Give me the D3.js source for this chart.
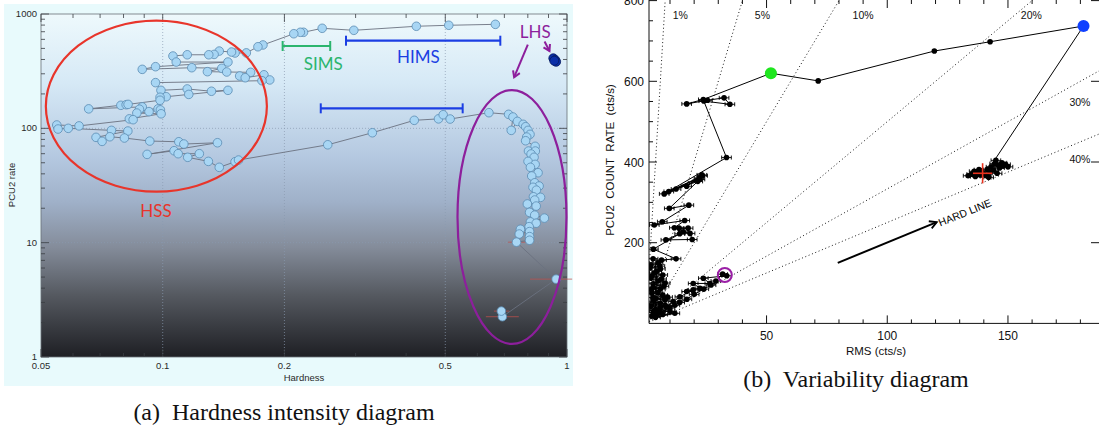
<!DOCTYPE html>
<html>
<head>
<meta charset="utf-8">
<script src="https://cdn.jsdelivr.net/npm/d3@7"></script>
<style>
  body { margin: 0; background: #fff; }
  svg { display: block; }
  text { font-family: "Liberation Sans", Arial, sans-serif; }
</style>
</head>
<body>
<svg id="fig" width="1099" height="430"></svg>
<script>
// ---- (a) hardness-intensity diagram: [hardness, PCU2 rate] ----
const hidTopTrack = [
  [0.665, 812], [0.51, 797], [0.424, 781], [0.297, 720], [0.248, 750], [0.223, 692],
  [0.219, 692], [0.211, 672], [0.177, 536], [0.172, 517]
];
const hidSoftTrack = [
  [0.161, 457], [0.151, 456], [0.148, 465], [0.138, 474], [0.134, 443], [0.130, 440],
  [0.115, 440], [0.106, 429], [0.108, 380], [0.145, 380], [0.096, 346], [0.089, 328],
  [0.118, 339], [0.140, 335], [0.129, 313], [0.144, 311], [0.165, 309], [0.155, 287],
  [0.160, 277], [0.178, 294], [0.184, 265], [0.176, 261], [0.096, 251], [0.099, 215],
  [0.115, 221], [0.132, 211], [0.145, 215], [0.116, 198], [0.102, 189], [0.0985, 187],
  [0.0985, 176], [0.0788, 159], [0.0812, 161], [0.0821, 162], [0.0656, 148], [0.089, 154],
  [0.0876, 147], [0.0974, 148], [0.0987, 145], [0.0925, 140], [0.0863, 136], [0.0991, 134],
  [0.0827, 121], [0.0845, 119], [0.0621, 105], [0.0547, 107], [0.0551, 98.6], [0.0584, 100],
  [0.0747, 96], [0.082, 94.7], [0.0684, 83.4], [0.0708, 76.9], [0.074, 84.4], [0.0804, 82.3],
  [0.0929, 77.4], [0.1096, 76.3], [0.1128, 72.9], [0.1366, 74.8], [0.0915, 59.2], [0.1067, 63.7],
  [0.1092, 60], [0.1232, 60], [0.1153, 55.8], [0.1297, 51.4], [0.138, 45.6], [0.151, 51],
  [0.154, 52.8]
];
const hidDecayTrack = [
  [0.256, 71.8], [0.330, 91.5], [0.419, 117.5], [0.481, 121], [0.494, 131.5], [0.514, 120.6],
  [0.641, 137], [0.717, 132.6], [0.735, 125.6], [0.728, 96], [0.754, 115], [0.779, 108.4],
  [0.790, 103.3], [0.801, 96], [0.810, 88.6], [0.795, 83.9], [0.790, 77.9], [0.834, 69.6],
  [0.803, 63.3], [0.835, 63.3], [0.815, 59.6], [0.829, 55.8], [0.801, 51.4], [0.834, 48.4],
  [0.812, 45.6], [0.848, 40.9], [0.818, 38.3], [0.832, 33.4], [0.853, 31.3], [0.824, 30.5],
  [0.840, 28.8], [0.826, 25.2], [0.860, 24.9], [0.832, 23.6], [0.798, 21.8], [0.839, 20.9],
  [0.808, 18.4], [0.832, 17.4], [0.879, 16.4], [0.812, 15.2], [0.839, 14.8], [0.806, 13.8],
  [0.767, 13.1], [0.762, 11.9], [0.808, 12.5], [0.808, 11.3], [0.808, 10.5], [0.750, 10.1],
  [0.940, 4.8], [0.692, 2.25], [0.688, 2.52]
];
const hidRise = [[0.925, 410], [0.935, 396], [0.94, 382], [0.93, 390]];
// [hardness, rate, low, high]
const hidErrBars = [[0.750, 10.1, 0.715, 0.79], [0.940, 4.8, 0.81, 1.03], [0.692, 2.25, 0.63, 0.76], [0.688, 2.52, 0.66, 0.72]];
const hidXTicks = [0.05, 0.1, 0.2, 0.5, 1];
const hidXLabels = ["0.05", "0.1", "0.2", "0.5", "1"];
const hidYTicks = [1, 10, 100, 1000];
const hidYLabels = ["1", "10", "100", "1000"];

// ---- (b) variability diagram: [RMS, PCU2 count rate] ----
const vdTrack = [
  [144.5, 405], [181.3, 737], [142.6, 698], [119.5, 675], [71.4, 601], [51.8, 620],
  [23.8, 555], [16.9, 544], [25.5, 553], [32.4, 559], [34.8, 543], [24, 551], [33.4, 411],
  [7.6, 321], [22.4, 357], [23.2, 368], [16.9, 340], [22.0, 360], [9.5, 327], [23.5, 366],
  [12.5, 333], [21.5, 352], [9.7, 285], [17.8, 293], [6.8, 252], [3.5, 244], [16.1, 255],
  [11.8, 237], [17.5, 236], [13.8, 236], [15.5, 227], [18.3, 223], [19.2, 208], [8.3, 207],
  [14, 222], [3.1, 184], [12.5, 160], [6.5, 157], [5.8, 142], [1.7, 137],
  [3, 160], [5, 150], [2, 145], [6, 135], [3.5, 125], [7, 120], [2, 112], [5, 105], [8, 100],
  [3, 90], [6, 85], [2.5, 75], [7, 70], [4, 62], [9, 65], [3, 55], [6, 50], [2, 42], [8, 45],
  [4, 35], [10, 30], [3, 27], [7, 22], [12, 25], [4, 15],
  [4.5, 130], [2.5, 118], [6.5, 110], [3, 98], [7.5, 92], [2.2, 84], [5, 76], [3, 64], [8, 58],
  [2.5, 48], [6, 40], [3.5, 32], [10, 38], [5, 24], [2.5, 18], [12, 45], [14, 52], [17, 60],
  [20, 72], [24, 85], [27, 95], [29, 105], [31.8, 122],
  [33.5, 118], [23.8, 112], [26.5, 99], [19.6, 99], [22.4, 87], [16.9, 79], [19.6, 83],
  [14.1, 66], [11.3, 54], [8.6, 41], [5.8, 29], [3.1, 21]
];
const vdCluster = [
  [133.5, 366], [135, 370], [136.5, 364], [137, 374], [138.5, 368], [139, 378], [140, 371],
  [141, 366], [141.5, 382], [142.5, 375], [143, 388], [144, 380], [144.5, 396], [145, 404],
  [146, 392], [146.5, 385], [147.5, 398], [148, 390], [149, 394], [150, 388], [138, 381],
  [142, 362], [136, 377], [145.5, 372]
];
const vdRmsErr = 2;
const vdHardStart = [181.3, 737];
const vdSoftStart = [51.8, 620];
const vdDecayMark = [32.7, 120];
const vdRedCross = [139.5, 372, 4, 25];   // rms, rate, rms err, rate err
const rmsFracs = [0.01, 0.05, 0.1, 0.2, 0.3, 0.4];
const rmsFracLabels = ["1%", "5%", "10%", "20%", "30%", "40%"];
const vdXTicks = [50, 100, 150];
const vdYTicks = [200, 400, 600, 800];

const svg = d3.select("#fig");
const defs = svg.append("defs");
const serif = "'Liberation Serif', 'Times New Roman', serif";

// ================= panel (a) =================
const gA = svg.append("g");
gA.append("rect").attr("x", 4).attr("y", 4).attr("width", 569).attr("height", 382).attr("fill", "#e8fafc");

const xA = d3.scaleLog().domain([0.05, 1]).range([41, 567]);
const yA = d3.scaleLog().domain([1, 1000]).range([357, 14]);

const grad = defs.append("linearGradient").attr("id", "bgA")
  .attr("x1", 0).attr("y1", 0).attr("x2", 0).attr("y2", 1);
[[0, "#eef9fc"], [0.2, "#d6e9f6"], [0.42, "#b4c8e0"], [0.55, "#9fb0c8"], [0.68, "#848c9a"],
 [0.82, "#555960"], [1, "#1e1f24"]].forEach(s => grad.append("stop").attr("offset", s[0]).attr("stop-color", s[1]));
gA.append("rect").attr("x", 41).attr("y", 14).attr("width", 526).attr("height", 343).attr("fill", "url(#bgA)");

// dotted grid
[0.1, 0.2, 0.5].forEach(v => gA.append("line")
  .attr("x1", xA(v)).attr("x2", xA(v)).attr("y1", 14).attr("y2", 357)
  .attr("stroke", "#8a9ab0").attr("stroke-width", 0.7).attr("stroke-dasharray", "1,2"));
[10, 100].forEach(v => gA.append("line")
  .attr("x1", 41).attr("x2", 567).attr("y1", yA(v)).attr("y2", yA(v))
  .attr("stroke", "#8a9ab0").attr("stroke-width", 0.7).attr("stroke-dasharray", "1,2"));

// frame + ticks
gA.append("rect").attr("x", 41).attr("y", 14).attr("width", 526).attr("height", 343)
  .attr("fill", "none").attr("stroke", "#6a7078").attr("stroke-width", 0.8);
const xMinorA = [0.06, 0.07, 0.08, 0.09, 0.3, 0.4, 0.6, 0.7, 0.8, 0.9];
const yMinorA = [];
[1, 10, 100].forEach(d => { for (let k = 2; k < 10; k++) yMinorA.push(d * k); });
const tickA = gA.append("g").attr("stroke", "#3a3d42").attr("stroke-width", 0.8);
hidXTicks.concat(xMinorA).forEach(v => {
  const len = hidXTicks.includes(v) ? 8 : 4;
  tickA.append("line").attr("x1", xA(v)).attr("x2", xA(v)).attr("y1", 357).attr("y2", 357 - len);
  tickA.append("line").attr("x1", xA(v)).attr("x2", xA(v)).attr("y1", 14).attr("y2", 14 + len);
});
hidYTicks.concat(yMinorA).forEach(v => {
  const len = hidYTicks.includes(v) ? 8 : 4;
  tickA.append("line").attr("x1", 41).attr("x2", 41 + len).attr("y1", yA(v)).attr("y2", yA(v));
  tickA.append("line").attr("x1", 567).attr("x2", 567 - len).attr("y1", yA(v)).attr("y2", yA(v));
});
hidXTicks.forEach((v, i) => gA.append("text").attr("x", xA(v)).attr("y", 369)
  .attr("text-anchor", "middle").attr("font-size", 9.5).attr("fill", "#2a2a2a").text(hidXLabels[i]));
hidYTicks.forEach((v, i) => gA.append("text").attr("x", 37).attr("y", yA(v) + 3)
  .attr("text-anchor", "end").attr("font-size", 9.5).attr("fill", "#2a2a2a").text(hidYLabels[i]));
gA.append("text").attr("x", 304).attr("y", 381).attr("text-anchor", "middle")
  .attr("font-size", 9.5).attr("fill", "#2a2a2a").text("Hardness");
gA.append("text").attr("transform", "translate(15,185) rotate(-90)").attr("text-anchor", "middle")
  .attr("font-size", 9.5).attr("fill", "#2a2a2a").text("PCU2 rate");

// error bars
const errA = gA.append("g").attr("stroke", "#c0504d").attr("stroke-width", 1).attr("opacity", 0.75);
hidErrBars.forEach(d => errA.append("line")
  .attr("x1", xA(d[2])).attr("x2", xA(d[3])).attr("y1", yA(d[1])).attr("y2", yA(d[1])));

// track
const trackA = hidTopTrack.concat(hidSoftTrack, hidDecayTrack);
const lineA = d3.line().x(d => xA(d[0])).y(d => yA(d[1]));
gA.append("path").attr("d", lineA(trackA)).attr("fill", "none")
  .attr("stroke", "#6b7280").attr("stroke-width", 0.9);
gA.append("g").selectAll("circle").data(trackA).join("circle")
  .attr("cx", d => xA(d[0])).attr("cy", d => yA(d[1])).attr("r", 4.3)
  .attr("fill", "#a8d6f4").attr("stroke", "#5a8bb3").attr("stroke-width", 0.8);
gA.append("g").selectAll("circle").data(hidRise).join("circle")
  .attr("cx", d => xA(d[0])).attr("cy", d => yA(d[1])).attr("r", 4.5)
  .attr("fill", "#0b2fa8").attr("stroke", "#061a60").attr("stroke-width", 0.8);

// annotations
function ellipseFromBox(g, h0, h1, r0, r1, color) {
  const cx = (xA(h0) + xA(h1)) / 2, cy = (yA(r0) + yA(r1)) / 2;
  g.append("ellipse").attr("cx", cx).attr("cy", cy)
    .attr("rx", Math.abs(xA(h1) - xA(h0)) / 2).attr("ry", Math.abs(yA(r0) - yA(r1)) / 2)
    .attr("fill", "none").attr("stroke", color).attr("stroke-width", 2.2);
}
ellipseFromBox(gA, 0.0514, 0.181, 27.9, 874, "#e8352b");
ellipseFromBox(gA, 0.536, 0.997, 1.3, 216, "#8d1f9c");

function rangeBar(g, h0, h1, r, color) {
  const yy = yA(r);
  g.append("line").attr("x1", xA(h0)).attr("x2", xA(h1)).attr("y1", yy).attr("y2", yy)
    .attr("stroke", color).attr("stroke-width", 2.2);
  [h0, h1].forEach(h => g.append("line").attr("x1", xA(h)).attr("x2", xA(h))
    .attr("y1", yy - 5).attr("y2", yy + 5).attr("stroke", color).attr("stroke-width", 2));
}
rangeBar(gA, 0.198, 0.2596, 525, "#2bb56e");
rangeBar(gA, 0.284, 0.684, 584, "#1b3ee3");
rangeBar(gA, 0.246, 0.552, 149.6, "#1b3ee3");

const labelA = (h, r, txt, color) => gA.append("text").attr("x", xA(h)).attr("y", yA(r))
  .attr("text-anchor", "middle").style("font-family", "Lato, 'Open Sans', sans-serif")
  .attr("font-size", 17).attr("fill", color).text(txt);
labelA(0.0963, 16.7, "HSS", "#e8352b");
labelA(0.2495, 324, "SIMS", "#2bb56e");
labelA(0.429, 373, "HIMS", "#1b3ee3");
labelA(0.835, 613, "LHS", "#8d1f9c");

function arrowA(h0, r0, h1, r1, color) {
  const x0 = xA(h0), y0 = yA(r0), x1 = xA(h1), y1 = yA(r1);
  const a = Math.atan2(y1 - y0, x1 - x0), L = 7, w = 0.55;
  gA.append("line").attr("x1", x0).attr("y1", y0).attr("x2", x1).attr("y2", y1)
    .attr("stroke", color).attr("stroke-width", 2);
  gA.append("path").attr("d", `M${x1 - L * Math.cos(a - w)},${y1 - L * Math.sin(a - w)}L${x1},${y1}L${x1 - L * Math.cos(a + w)},${y1 - L * Math.sin(a + w)}`)
    .attr("fill", "none").attr("stroke", color).attr("stroke-width", 2);
}
arrowA(0.8, 540, 0.74, 280, "#8d1f9c");
arrowA(0.88, 575, 0.905, 475, "#8d1f9c");

// ================= panel (b) =================
const gB = svg.append("g");
const xB = d3.scaleLinear().domain([1.3, 187.3]).range([649, 1098]);
const yB = d3.scaleLinear().domain([0, 800]).range([323.4, 0.6]);

defs.append("clipPath").attr("id", "clipB").append("rect")
  .attr("x", 649).attr("y", 0).attr("width", 450).attr("height", 323.4);
const plotB = gB.append("g").attr("clip-path", "url(#clipB)");

// fractional rms lines
rmsFracs.forEach(f => plotB.append("line")
  .attr("x1", xB(0)).attr("y1", yB(0)).attr("x2", xB(2000 * f)).attr("y2", yB(2000))
  .attr("stroke", "#000").attr("stroke-width", 0.9).attr("stroke-dasharray", "1,2.6"));
const fracLabelPos = [[14.3, 754], [48.3, 754], [90, 754], [159.7, 754], [179.8, 539], [179.8, 398]];
rmsFracLabels.forEach((t, i) => gB.append("text")
  .attr("x", xB(fracLabelPos[i][0])).attr("y", yB(fracLabelPos[i][1]))
  .attr("text-anchor", "middle").attr("font-size", 10.5).attr("fill", "#111").text(t));

// track
const lineB = d3.line().x(d => xB(d[0])).y(d => yB(d[1]));
plotB.append("path").attr("d", lineB(vdTrack)).attr("fill", "none")
  .attr("stroke", "#000").attr("stroke-width", 1);
const errB = plotB.append("g").attr("stroke", "#000").attr("stroke-width", 0.9);
vdTrack.slice(5).concat(vdCluster).forEach(d => {
  const y0 = yB(d[1]);
  errB.append("line").attr("x1", xB(d[0] - vdRmsErr)).attr("x2", xB(d[0] + vdRmsErr)).attr("y1", y0).attr("y2", y0);
  [d[0] - vdRmsErr, d[0] + vdRmsErr].forEach(v => errB.append("line")
    .attr("x1", xB(v)).attr("x2", xB(v)).attr("y1", y0 - 2).attr("y2", y0 + 2));
});
plotB.append("g").selectAll("circle").data(vdTrack.slice(2).concat(vdCluster)).join("circle")
  .attr("cx", d => xB(d[0])).attr("cy", d => yB(d[1])).attr("r", 2.8).attr("fill", "#000");

// red cross
const rc = vdRedCross;
plotB.append("line").attr("x1", xB(rc[0] - rc[2])).attr("x2", xB(rc[0] + rc[2]))
  .attr("y1", yB(rc[1])).attr("y2", yB(rc[1])).attr("stroke", "#e8321e").attr("stroke-width", 1.6);
plotB.append("line").attr("x1", xB(rc[0])).attr("x2", xB(rc[0]))
  .attr("y1", yB(rc[1] - rc[3])).attr("y2", yB(rc[1] + rc[3])).attr("stroke", "#e8321e").attr("stroke-width", 1.6);

plotB.append("circle").attr("cx", xB(vdHardStart[0])).attr("cy", yB(vdHardStart[1])).attr("r", 6).attr("fill", "#1040ff");
plotB.append("circle").attr("cx", xB(vdSoftStart[0])).attr("cy", yB(vdSoftStart[1])).attr("r", 6).attr("fill", "#1ee61e");
plotB.append("circle").attr("cx", xB(vdDecayMark[0])).attr("cy", yB(vdDecayMark[1])).attr("r", 7)
  .attr("fill", "none").attr("stroke", "#9a1fa6").attr("stroke-width", 2);

// hard line arrow
{
  const x0 = xB(79.5), y0 = yB(150), x1 = xB(120.5), y1 = yB(251);
  const a = Math.atan2(y1 - y0, x1 - x0), L = 8, w = 0.5;
  gB.append("line").attr("x1", x0).attr("y1", y0).attr("x2", x1).attr("y2", y1)
    .attr("stroke", "#000").attr("stroke-width", 2);
  gB.append("path").attr("d", `M${x1 - L * Math.cos(a - w)},${y1 - L * Math.sin(a - w)}L${x1},${y1}L${x1 - L * Math.cos(a + w)},${y1 - L * Math.sin(a + w)}`)
    .attr("fill", "none").attr("stroke", "#000").attr("stroke-width", 1.8);
  gB.append("text").attr("transform", `translate(${xB(122)},${yB(240)}) rotate(-22)`)
    .attr("font-size", 10.5).attr("fill", "#000").text("HARD LINE");
}

// axes
const axB = gB.append("g").attr("stroke", "#111").attr("stroke-width", 1);
axB.append("line").attr("x1", 649).attr("x2", 649).attr("y1", 0).attr("y2", 323.4);
axB.append("line").attr("x1", 649).attr("x2", 1099).attr("y1", 323.4).attr("y2", 323.4);
d3.range(10, 188, 10).forEach(v => {
  const len = v % 50 === 0 ? 8 : 4;
  axB.append("line").attr("x1", xB(v)).attr("x2", xB(v)).attr("y1", 323.4).attr("y2", 323.4 - len);
  axB.append("line").attr("x1", xB(v)).attr("x2", xB(v)).attr("y1", 0).attr("y2", len);
});
d3.range(50, 801, 50).forEach(v => {
  const len = v % 200 === 0 ? 8 : 4;
  axB.append("line").attr("x1", 649).attr("x2", 649 + len).attr("y1", yB(v)).attr("y2", yB(v));
  if (v % 200 === 0) axB.append("line").attr("x1", 1099).attr("x2", 1099 - len).attr("y1", yB(v)).attr("y2", yB(v));
});
vdXTicks.forEach(v => gB.append("text").attr("x", xB(v)).attr("y", 340)
  .attr("text-anchor", "middle").attr("font-size", 12).attr("fill", "#111").text(v));
vdYTicks.forEach(v => gB.append("text").attr("x", 644).attr("y", yB(v) + 4.5)
  .attr("text-anchor", "end").attr("font-size", 12).attr("fill", "#111").text(v));
gB.append("text").attr("x", 876).attr("y", 355).attr("text-anchor", "middle")
  .attr("font-size", 11.5).attr("fill", "#111").text("RMS (cts/s)");
gB.append("text").attr("transform", "translate(614,160) rotate(-90)").attr("text-anchor", "middle")
  .attr("font-size", 11.5).attr("fill", "#111").style("white-space", "pre")
  .text("PCU2  COUNT  RATE  (cts/s)");

// captions
svg.append("text").attr("x", 284).attr("y", 420).attr("text-anchor", "middle")
  .style("font-family", serif).attr("font-size", 24)
  .attr("fill", "#111").style("white-space", "pre").text("(a)  Hardness intensity diagram");
svg.append("text").attr("x", 856).attr("y", 387).attr("text-anchor", "middle")
  .style("font-family", serif).attr("font-size", 24)
  .attr("fill", "#111").style("white-space", "pre").text("(b)  Variability diagram");
</script>
</body>
</html>
